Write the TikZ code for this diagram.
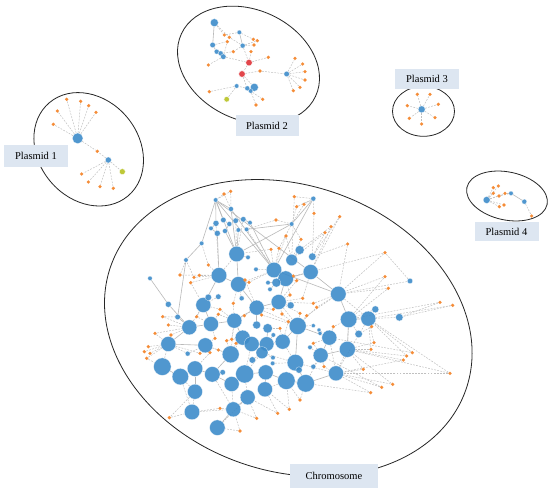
\documentclass[tikz,border=0pt]{standalone}
\usepackage{fontspec}
\setmainfont{Liberation Serif}
\definecolor{nblue}{RGB}{62,140,202}
\definecolor{norange}{RGB}{245,140,55}
\definecolor{nred}{RGB}{226,70,75}
\definecolor{ngreen}{RGB}{190,200,55}
\definecolor{egray}{RGB}{192,192,192}
\definecolor{sgray}{RGB}{185,185,185}
\definecolor{labblue}{RGB}{221,230,241}
\pgfdeclarelayer{bg}
\pgfdeclarelayer{edges}
\pgfsetlayers{bg,edges,main}
\tikzset{
  bn/.style={circle, fill=nblue, fill opacity=0.9, draw=white, draw opacity=0.8, line width=0.3pt, inner sep=0pt, minimum size=#1},
  rn/.style={circle, fill=nred, draw=white, line width=0.3pt, inner sep=0pt, minimum size=#1},
  gn/.style={circle, fill=ngreen, draw=white, line width=0.3pt, inner sep=0pt, minimum size=#1},
  on/.style={circle, fill=norange, inner sep=0pt, minimum size=3.6pt},
  de/.style={draw=egray, dash pattern=on 1.8pt off 1.3pt, line width=0.5pt},
  se/.style={draw=sgray, line width=0.6pt},
  ell/.style={draw=black!85, line width=0.8pt},
  lab/.style={fill=labblue, inner sep=0pt, font=\fontsize{10.5}{12}\selectfont, text=black}
}
\begin{document}
\begin{tikzpicture}[x=1pt, y=-1pt]
\useasboundingbox (0,0) rectangle (550,495);
\begin{pgfonlayer}{bg}
\fill[white] (0,0) rectangle (550,495);
\end{pgfonlayer}

% ---------------- ellipses ----------------
\draw[ell, rotate around={-19:(288.3,328)}] (288.3,328) ellipse [x radius=188pt, y radius=143pt];
\draw[ell, rotate around={-50:(88.7,149.3)}] (88.7,149.3) ellipse [x radius=61pt, y radius=50pt];
\draw[ell, rotate around={-25:(248.5,65)}] (248.5,65) ellipse [x radius=74pt, y radius=55pt];
\draw[ell] (423.5,111.3) ellipse [x radius=31pt, y radius=25pt];
\draw[ell, rotate around={-12:(507,196)}] (507,196) ellipse [x radius=41pt, y radius=24pt];

% ---------------- chromosome ----------------
\begin{scope}[shift={(100pt,-170pt)}, x=0.33333pt, y=-0.33333pt]
\foreach \n/\x/\y/\s in {
 c1/410/252/15.5pt, c2/357/316/15.5pt, c3/415/343/15.5pt, c4/522/300/15.5pt, c5/557/326/15.5pt,
 c6/575/270/11.5pt, c7/599/240/9pt, c8/637/260/7.5pt, c9/632/306/15pt, c10/715/372/15.5pt,
 c11/536/396/15pt, c12/470/413/15pt, c13/310/405/15pt, c14/333/462/15pt, c15/403/452/15pt,
 c16/268/472/15pt, c17/205/522/15pt, c18/316/526/15pt, c19/428/503/15pt, c20/455/522/15pt,
 c21/500/522/14.5pt, c22/548/515/15pt, c23/593/468/17pt, c24/688/503/15pt, c25/746/448/16.5pt,
 c26/805/446/15pt, c27/742/538/16pt, c28/662/556/15pt, c29/586/578/16.5pt, c30/486/548/12pt,
 c31/392/553/17pt, c32/187/590/17.5pt, c33/241/620/16.5pt, c34/285/596/15.5pt, c35/337/613/15.5pt,
 c36/395/642/15pt, c37/434/612/18pt, c38/497/607/15pt, c39/559/632/17.5pt, c40/617/640/17.5pt,
 c41/708/610/15pt, c42/285/665/15pt, c43/443/682/15pt, c44/495/658/15pt, c45/276/726/15.5pt,
 c46/400/718/15pt, c47/352/773/15.5pt, c48/503/475/9.5pt, c49/470/465/8pt, c50/529/338/9pt,
 c51/572/406/7pt, c52/898/442/7.5pt, c53/826/418/7pt, c54/776/492/7.5pt, c55/930/333/5.5pt,
 t1/347/90/4.5pt, t2/393/117/5pt, t3/348/160/6pt, t4/370/150/5.5pt, t5/388/162/5pt,
 t6/407/152/5.5pt, t7/430/148/5.5pt, t8/450/158/4.5pt, t9/333/175/4.5pt, t10/352/190/6pt,
 t11/375/183/5pt, t12/415/180/4.5pt, t13/440/178/4.5pt,
 s1/640/86/5pt, s2/575/162/4.5pt, s3/305/220/4.5pt, s4/258/270/4.5pt, s5/150/325/4.5pt,
 s6/205/403/6pt, s7/233/441/5.5pt, s8/263/551/5pt, s9/444/262/4.5pt, s10/468/298/4.5pt,
 s11/425/385/5pt, s12/355/380/5.5pt, s13/325/382/6.5pt, s14/457/570/6.5pt, s15/519/563/4.5pt,
 s16/518/580/4.5pt, s17/597/600/6.5pt, s18/640/590/5pt, s19/640/467/4pt, s20/657/480/4pt,
 s21/660/490/4pt, s22/504/338/4.5pt, s23/510/358/4.5pt, s24/368/607/5.5pt, s25/520/495/4.5pt,
 s26/630/532/4.5pt}
  \node[bn=\s] (\n) at (\x,\y) {};
\foreach \n/\x/\y in {
 o1/372/72, o2/392/64, o3/583/80, o4/612/103, o5/642/130, o6/719/140, o7/693/170, o8/675/188,
 o9/603/208, o10/743/222, o11/528/150, o12/590/110, o13/558/198, o14/513/238, o15/537/235,
 o16/855/248, o17/855/320, o18/865/355, o19/1020/397, o20/1058/406, o21/240/315, o22/282/322,
 o23/298/316, o24/272/338, o25/435/330, o26/447/337, o27/580/318, o28/590/332, o29/640/400,
 o30/608/385, o31/570/375, o32/188/440, o33/205/465, o34/165/490, o35/213/495, o36/133/545,
 o37/150/550, o38/145/530, o39/140/565, o40/290/440, o41/355/433, o42/360/418, o43/400/400,
 o44/433/437, o45/485/435, o46/520/418, o47/546/432, o48/600/430, o49/620/437, o50/650/412,
 o51/345/505, o52/380/512, o53/395/508, o54/408/520, o55/565/455, o56/540/475, o57/822/518,
 o58/813/538, o59/920/558, o60/937/548, o61/910/570, o62/1050/610, o63/878/643, o64/845/652,
 o65/812/668, o66/790/598, o67/600/690, o68/568/718, o69/533/730, o70/470/745, o71/420/783,
 o72/360/715, o73/208/743, o74/355/540, o75/330/548, o76/300/550, o77/672/590, o78/640/520,
 o79/700/470, o80/815/470, o81/325/285}
  \node[on] (\n) at (\x,\y) {};
\end{scope}

% ---------------- plasmid 1 ----------------
\begin{scope}[shift={(0pt,-80pt)}, x=0.33333pt, y=-0.33333pt]
\node[bn=10.7pt] (pa1) at (233,175) {};
\node[bn=6pt] (pa2) at (325,240) {};
\node[gn=6pt] (pag) at (367,275) {};
\foreach \n/\x/\y in {qa1/200/58, qa2/242/64, qa3/266/77, qa4/172/93, qa5/288/97, qa6/160/133,
 qa7/292/214, qa8/245/282, qa9/265/306, qa10/300/320, qa11/340/325}
  \node[on] (\n) at (\x,\y) {};
\end{scope}

% ---------------- plasmid 2 ----------------
\begin{scope}[shift={(170pt,0pt)}, x=0.33333pt, y=-0.33333pt]
\foreach \n/\x/\y/\s in {pb1/133/68/8pt, pb2/208/97/4.5pt, pb3/128/135/5.5pt, pb4/218/137/5pt,
 pb5/140/155/5pt, pb6/152/160/5pt, pb7/160/170/5.5pt, pb8/350/222/5.5pt, pb9/253/262/8pt,
 pb10/232/265/5pt, pb11/242/273/4.5pt, pb12/200/258/4.5pt}
  \node[bn=\s] (\n) at (\x,\y) {};
\node[rn=6.5pt] (pr1) at (237,188) {};
\node[rn=6.5pt] (pr2) at (216,222) {};
\node[gn=5.5pt] (pg) at (170,298) {};
\foreach \n/\x/\y in {qb1/163/105, qb2/178/112, qb3/172/125, qb4/250/118, qb5/262/122, qb6/252/135,
 qb7/190/155, qb8/243/155, qb9/295/172, qb10/115/195, qb11/270/213, qb12/375/175, qb13/398/192,
 qb14/405/215, qb15/405/240, qb16/390/262, qb17/370/272, qb18/118/275, qb19/278/298, qb20/258/315}
  \node[on] (\n) at (\x,\y) {};
\end{scope}

% ---------------- plasmids 3 and 4 ----------------
\begin{scope}[shift={(380pt,-60pt)}, x=0.33333pt, y=-0.33333pt]
\node[bn=7pt] (pc1) at (125,148) {};
\foreach \n/\x/\y in {qc1/112/103, qc2/150/103, qc3/82/137, qc4/175/133, qc5/88/175, qc6/165/173, qc7/125/192}
  \node[on] (\n) at (\x,\y) {};
\node[bn=7pt] (pd1) at (320,420) {};
\node[bn=4.5pt] (pd2) at (393,400) {};
\node[bn=5pt] (pd3) at (433,425) {};
\foreach \n/\x/\y in {qd1/340/383, qd2/355/378, qd3/340/400, qd4/357/408, qd5/375/400, qd6/372/435, qd7/358/440, qd8/455/468}
  \node[on] (\n) at (\x,\y) {};
\end{scope}

% ---------------- edges ----------------
\begin{pgfonlayer}{edges}
\foreach \a/\b in {t1/t2, t1/t3, t1/t4, t1/c4, t1/c9, t1/c1, t1/s3, s3/s4, s4/s7, s7/c16, s5/s6,
 s6/c16, t2/c1, t3/t9, t9/t10, t4/t5, t6/t7, t7/t8, t5/t11, t11/c1, t12/c1, t8/c4, s1/s2, s2/c1,
 s1/c4, c1/c3, c2/c3, c2/c13, c4/c5, c5/c9, c6/c7, c9/c10, c10/c25, c25/c26, c26/c53, c11/c12,
 c12/c15, c13/c14, c14/c16, c16/c17, c17/c18, c15/c19, c19/c20, c20/c21, c21/c22, c22/c23,
 c23/c24, c24/c28, c28/c27, c27/c25, c29/c40, c31/c35, c32/c33, c33/c34, c34/c35, c35/c36,
 c36/c37, c37/c38, c38/c39, c39/c40, c40/c41, c42/c34, c46/c43, c46/c47, c3/c12, c5/c11,
 c23/c29, c30/c21, c48/c21, c49/c12, c50/c5, c14/c15, t2/c4, t10/c2, s2/t13, c4/c10}
  \draw[se] (\a) -- (\b);
\foreach \a/\b in {c25/c27, c26/c41, c10/c26, c29/c41, c39/c44, c40/c28, c36/c46, c33/c42,
 c42/c45, c45/c46, c47/c43, c44/c38, c32/c17, s8/c17, s8/c18, s9/c1, s10/c4, s11/c3, s12/c13,
 s13/c13, s14/c30, s15/c30, s16/c29, s17/c29, s18/c28, s19/c23, s20/c24, s21/c24, s22/c50,
 s23/c50, s24/c35, s25/c21, s26/c28, c51/c11, c53/c25, c52/c26, c54/c25, c33/c45, c35/c46,
 c37/c43, c38/c44, c31/c19, c20/c37, c22/c29, c24/c41, c27/c41, c18/c31, c13/c16, c2/c1,
 c12/c23, c3/c4, c11/c23, c15/c31, c55/c10, c30/c37, c30/c29, t3/c2, t6/c1, t7/c1, t13/c4}
  \draw[de] (\a) -- (\b);
\foreach \a/\b in {o1/t1, o1/t2, o2/t1, o2/t2, o3/s1, o3/c6, o4/s1, o4/s2, o5/s1, o5/c8, o6/c8,
 o6/c9, o7/c9, o7/c7, o8/c8, o8/c6, o9/c6, o9/s2, o10/c8, o10/c10, o11/s2, o11/t13, o12/s1,
 o12/s2, o13/c4, o13/c6, o14/c1, o14/c4, o15/c4, o15/s2, o16/c9, o16/c10, o16/c55, o17/c10,
 o17/c25, o18/c10, o18/c25, o19/c25, o19/c52, o20/c26, o20/c52, o21/s4, o21/c2, o22/c2, o22/s4,
 o23/c2, o24/c2, o24/c13, o25/c3, o25/c12, o26/c3, o26/c4, o27/c5, o27/c9, o28/c5, o28/c11,
 o29/c10, o29/c11, o30/c11, o30/c9, o31/c11, o31/c5, o32/c16, o32/s7, o33/c16, o34/c17, o34/c16,
 o35/c17, o35/c16, o36/c17, o37/c17, o38/c17, o39/c17, o39/c32, o40/c14, o40/c13, o41/c14,
 o41/c15, o42/c13, o42/c15, o43/c15, o43/c3, o44/c15, o44/c12, o45/c12, o45/c23, o46/c11,
 o46/c12, o47/c11, o47/c23, o48/c23, o48/c11, o49/c23, o49/c10, o50/c10, o50/c23, o51/c18,
 o51/c14, o52/c19, o52/c31, o53/c19, o53/c15, o54/c19, o54/c31, o55/c23, o55/c22, o56/c22,
 o56/c48, o57/c26, o57/c27, o58/c27, o58/c26, o59/c26, o59/c27, o60/c26, o60/c24, o61/c27,
 o61/c41, o62/c27, o62/c26, o62/c41, o63/c41, o63/c27, o64/c41, o64/c28, o65/c41, o65/c40,
 o66/c41, o66/c27, o67/c40, o67/c39, o68/c39, o68/c44, o69/c44, o69/c43, o70/c43, o70/c46,
 o71/c46, o71/c47, o72/c46, o72/c45, o73/c45, o73/c42, o74/c18, o74/c31, o75/c18, o75/c34,
 o76/c18, o76/c17, o77/c28, o77/c41, o78/c28, o78/c24, o79/c24, o79/c25, o80/c26, o80/c54,
 o81/c2, o81/s3}
  \draw[de] (\a) -- (\b);
% plasmid 1
\foreach \b in {qa1, qa2, qa3, qa4, qa5, qa6, qa7} \draw[de] (pa1) -- (\b);
\foreach \b in {qa7, qa8, qa9, qa10, qa11, pag} \draw[de] (pa2) -- (\b);
% plasmid 2
\foreach \a/\b in {pb1/pb3, pb3/pb5, pb5/pb6, pb6/pb7, pb2/pb4}
  \draw[se] (\a) -- (\b);
\foreach \a/\b in {pb1/qb1, pb1/qb2, pb3/qb3, pb2/qb4, pb2/qb1, pb4/qb5, pb4/qb6, pb4/qb7,
 pb4/pr1, pb7/pr1, pr1/qb8, pr1/qb9, pr1/pr2, pb7/qb10, pr2/qb11, qb11/pb8, pb8/qb12, pb8/qb13,
 pb8/qb14, pb8/qb15, pb8/qb16, pb8/qb17, pr2/pb9, pr2/pb10, pb9/pb10, pb9/pb11, pb10/pb12,
 pb12/qb18, pb11/qb19, pb11/qb20, pb12/pg, pb6/qb7, qb3/pb7, qb2/pb4}
  \draw[de] (\a) -- (\b);
% plasmid 3
\foreach \b in {qc1, qc2, qc3, qc4, qc5, qc6, qc7} \draw[de] (pc1) -- (\b);
% plasmid 4
\foreach \b in {qd1, qd2, qd3, qd4, qd5, qd6, qd7} \draw[de] (pd1) -- (\b);
\foreach \a/\b in {qd5/pd2, qd4/pd2, pd3/qd8} \draw[de] (\a) -- (\b);
\draw[se] (pd2) -- (pd3);
\end{pgfonlayer}

% ---------------- labels ----------------
\node[lab, minimum width=64pt, minimum height=22pt] (lab1) at (36,156) {Plasmid 1};
\node[lab, minimum width=63pt, minimum height=21pt] (lab2) at (267,125.5) {Plasmid 2};
\node[lab, minimum width=64pt, minimum height=20pt] (lab3) at (427,79) {Plasmid 3};
\node[lab, minimum width=64pt, minimum height=19pt] (lab4) at (506.5,231.5) {Plasmid 4};
\node[lab, minimum width=88pt, minimum height=24pt] (lab5) at (334,476) {Chromosome};
\end{tikzpicture}
\end{document}
